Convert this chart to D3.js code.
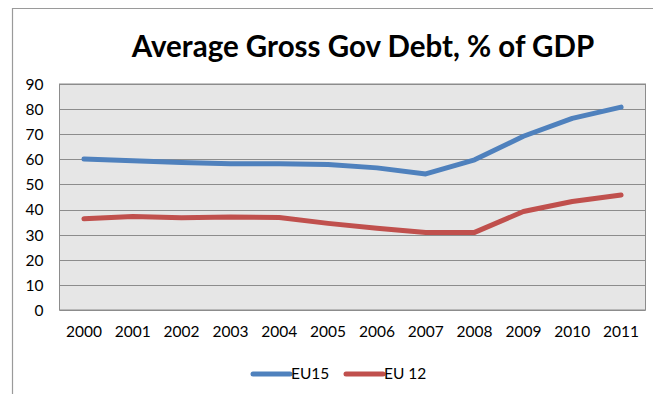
<!DOCTYPE html>
<html>
<head>
<meta charset="utf-8">
<script src="https://cdn.jsdelivr.net/npm/d3@7"></script>
<style>
  html, body { margin: 0; padding: 0; background: #fff; }
  svg { display: block; }
  text { font-family: Lato, "Open Sans", sans-serif; fill: #000; }
</style>
</head>
<body>
<svg id="chart" width="653" height="394"></svg>
<script>
// Average gross government debt, % of GDP
const years = ["2000","2001","2002","2003","2004","2005","2006","2007","2008","2009","2010","2011"];
const eu15 = [60.1, 59.4, 58.7, 58.2, 58.2, 57.9, 56.6, 54.2, 59.8, 69.2, 76.3, 80.8];
const eu12 = [36.3, 37.2, 36.7, 37.0, 36.8, 34.5, 32.6, 30.9, 30.9, 39.2, 43.2, 45.8];
const yTicks = [0, 10, 20, 30, 40, 50, 60, 70, 80, 90];
const seriesNames = ["EU15", "EU 12"];
const seriesColors = ["#4f81bd", "#c0504d"];

const svg = d3.select("#chart");

// outer chart frame (top and left edges)
svg.append("path")
  .attr("d", "M12.5,394 V8.5 H653")
  .attr("fill", "none").attr("stroke", "#9a9a9a").attr("stroke-width", 1.2);

const plot = { left: 59.5, right: 645.5, top: 84, bottom: 310 };

const x = d3.scaleBand().domain(years).range([plot.left, plot.right]);
const y = d3.scaleLinear().domain([0, 90]).range([plot.bottom, plot.top]);

// plot background
svg.append("rect")
  .attr("x", plot.left).attr("y", plot.top)
  .attr("width", plot.right - plot.left).attr("height", plot.bottom - plot.top)
  .attr("fill", "#e6e6e6").attr("stroke", "#8c8c8c").attr("stroke-width", 1);

// horizontal gridlines
svg.append("g").selectAll("line").data(yTicks).join("line")
  .attr("x1", plot.left).attr("x2", plot.right)
  .attr("y1", d => Math.round(y(d)) + 0.5).attr("y2", d => Math.round(y(d)) + 0.5)
  .attr("stroke", "#8c8c8c").attr("stroke-width", 1.2);

// y axis labels
const yAxis = d3.axisLeft(y).tickValues(yTicks).tickSize(0).tickPadding(0);
const gy = svg.append("g").attr("transform", `translate(${plot.left - 16},0)`).call(yAxis);
gy.select(".domain").remove();
gy.selectAll("text").attr("font-size", 15.5).attr("font-family", "Lato, sans-serif").attr("fill", "#000").attr("dy", "0.35em");

// x axis labels
const xAxis = d3.axisBottom(x).tickSize(0).tickPadding(0);
const gx = svg.append("g").attr("transform", `translate(0,${plot.bottom + 16})`).call(xAxis);
gx.select(".domain").remove();
gx.selectAll("text").attr("font-size", 15.5).attr("font-family", "Lato, sans-serif").attr("fill", "#000").attr("dy", "0.71em");

// series lines
const line = d3.line().x((d, i) => x(years[i]) + x.bandwidth() / 2).y(d => y(d));
[eu15, eu12].forEach((vals, k) => {
  svg.append("path").datum(vals)
    .attr("d", line)
    .attr("fill", "none")
    .attr("stroke", seriesColors[k])
    .attr("stroke-width", 5)
    .attr("stroke-linecap", "round")
    .attr("stroke-linejoin", "round");
});

// title
svg.append("text")
  .attr("x", 363).attr("y", 57)
  .attr("text-anchor", "middle")
  .attr("font-size", 29.5).attr("font-weight", "bold")
  .text("Average Gross Gov Debt, % of GDP");

// legend
const legendX = [253, 346];
seriesNames.forEach((name, k) => {
  const g = svg.append("g").attr("transform", `translate(${legendX[k]},374)`);
  g.append("line").attr("x1", 0).attr("x2", 37).attr("y1", 0).attr("y2", 0)
    .attr("stroke", seriesColors[k]).attr("stroke-width", 5).attr("stroke-linecap", "round");
  g.append("text").attr("x", 38).attr("y", 0).attr("dy", "0.35em")
    .attr("font-size", 15.5).text(name);
});
</script>
</body>
</html>
